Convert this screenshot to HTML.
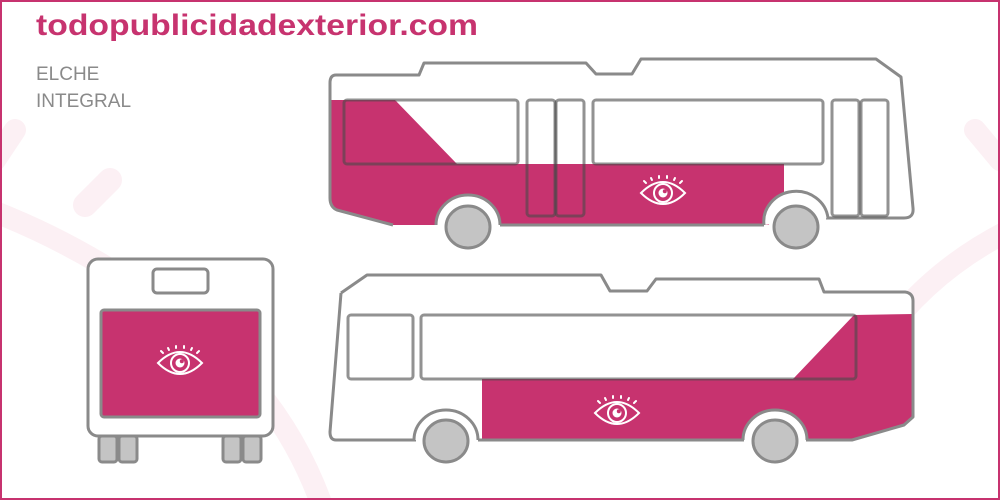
<!DOCTYPE html>
<html><head><meta charset="utf-8"><style>
html,body{margin:0;padding:0;background:#fff}
svg{display:block}
</style></head><body>
<svg width="1000" height="500" viewBox="0 0 1000 500" xmlns="http://www.w3.org/2000/svg">
<defs>
<g id="eye" fill="none" stroke="#fff" stroke-width="2" stroke-linecap="round">
  <path d="M-22,0 Q0,-22 22,0 Q0,22 -22,0 Z"/>
  <circle cx="0" cy="0" r="9"/>
  <circle cx="0" cy="0" r="4.5" fill="#fff" stroke="none"/>
  <circle cx="1.8" cy="-1.8" r="2" fill="#c7336f" stroke="none"/>
  <line x1="-19" y1="-12" x2="-17" y2="-10"/>
  <line x1="-12" y1="-15" x2="-11" y2="-13"/>
  <line x1="-4" y1="-17" x2="-4" y2="-15"/>
  <line x1="4" y1="-17" x2="4" y2="-15"/>
  <line x1="12" y1="-15" x2="11" y2="-13"/>
  <line x1="19" y1="-12" x2="17" y2="-10"/>
</g>
</defs>
<rect x="0" y="0" width="1000" height="500" fill="#fff"/>
<g fill="none" stroke="#fcf0f4" stroke-linecap="round">
  <path d="M-10,210 Q120,260 230,360 Q290,420 320,500" stroke-width="22"/>
  <line x1="85" y1="205" x2="110" y2="180" stroke-width="24"/>
  <line x1="15" y1="130" x2="-5" y2="160" stroke-width="22"/>
  <path d="M1010,230 Q930,270 880,340" stroke-width="22"/>
  <line x1="975" y1="130" x2="1000" y2="160" stroke-width="22"/>
</g>
<rect x="1" y="1" width="998" height="498" fill="none" stroke="#c7336f" stroke-width="2"/>
<text x="36" y="35" font-family="Liberation Sans, sans-serif" font-weight="bold" font-size="30" fill="#c7336f" textLength="442" lengthAdjust="spacingAndGlyphs">todopublicidadexterior.com</text>
<text x="36" y="80" font-family="Liberation Sans, sans-serif" font-size="19" fill="#8a8a8a">ELCHE</text>
<text x="36" y="107" font-family="Liberation Sans, sans-serif" font-size="19" fill="#8a8a8a">INTEGRAL</text>

<!-- TOP BUS -->
<path d="M336,75 L419,75 L424,63 L586,63 L596,74 L632,74 L641,59 L876,59 L901,76 L913,208 Q914,218 904,218 L393,225 L337,210 Q330,207 330,198 L330,83 Q330,75 336,75 Z" fill="#fff"/>
<path d="M330,100 L395,100 L457,164 L784,164 L784,225 L393,225 L337,210 Q330,207 330,198 Z" fill="#c7336f"/>
<path d="M336,75 L419,75 L424,63 L586,63 L596,74 L632,74 L641,59 L876,59 L901,77 L913,208 Q914,218 904,218 L826,218 M393,225 L337,210 Q330,207 330,198 L330,83 Q330,75 336,75 M500,225 L764,225" fill="none" stroke="#8a8a8a" stroke-width="3" stroke-linejoin="round"/>
<g fill="none" stroke="#4a4a4a" stroke-opacity="0.6" stroke-width="3">
  <rect x="344" y="100" width="174" height="64" rx="3"/>
  <rect x="527" y="100" width="28" height="116" rx="3"/>
  <rect x="556" y="100" width="28" height="116" rx="3"/>
  <rect x="593" y="100" width="230" height="64" rx="3"/>
  <rect x="832" y="100" width="27" height="116" rx="3"/>
  <rect x="861" y="100" width="27" height="116" rx="3"/>
</g>
<path d="M436,225 A32,30 0 0 1 500,225" fill="#fff" stroke="#8a8a8a" stroke-width="3"/>
<path d="M764,225 A32,30 0 0 1 828,218" fill="#fff" stroke="#8a8a8a" stroke-width="3"/>
<path d="M441,226 A27,25 0 0 1 495,226 Z" fill="#fff"/>
<path d="M769,226 A27,25 0 0 1 823,226 Z" fill="#fff"/>
<ellipse cx="468" cy="227" rx="22" ry="21" fill="#c4c4c4" stroke="#8a8a8a" stroke-width="3"/>
<ellipse cx="796" cy="227" rx="22" ry="21" fill="#c4c4c4" stroke="#8a8a8a" stroke-width="3"/>
<use href="#eye" x="663" y="193"/>

<!-- BOTTOM BUS -->
<path d="M341,293 L367,275 L601,275 L610,291 L647,291 L656,279 L819,279 L824,292 L905,292 Q913,293 913,301 L913,417 L904,425 L852,440 L336,440 Q330,440 330,432 Z" fill="#fff"/>
<path d="M482,379 L793,379 L854,315 L913,314 L913,417 L904,425 L852,440 L482,440 Z" fill="#c7336f"/>
<path d="M341,293 L367,275 L601,275 L610,291 L647,291 L656,279 L819,279 L824,292 L905,292 Q913,293 913,301 L913,417 L904,425 L852,440 L806,440 M744,440 L478,440 M416,440 L336,440 Q330,440 330,432 L341,293" fill="none" stroke="#8a8a8a" stroke-width="3" stroke-linejoin="round"/>
<g fill="none" stroke="#4a4a4a" stroke-opacity="0.6" stroke-width="3">
  <rect x="348" y="315" width="65" height="64" rx="3"/>
  <rect x="421" y="315" width="435" height="64" rx="3"/>
</g>
<path d="M414,440 A32,30 0 0 1 478,440" fill="#fff" stroke="#8a8a8a" stroke-width="3"/>
<path d="M743,440 A32,30 0 0 1 807,440" fill="#fff" stroke="#8a8a8a" stroke-width="3"/>
<ellipse cx="446" cy="441" rx="22" ry="21" fill="#c4c4c4" stroke="#8a8a8a" stroke-width="3"/>
<ellipse cx="775" cy="441" rx="22" ry="21" fill="#c4c4c4" stroke="#8a8a8a" stroke-width="3"/>
<use href="#eye" x="617" y="413"/>

<!-- REAR -->
<g stroke="#8a8a8a" stroke-width="3">
  <rect x="99" y="436" width="18" height="26" rx="3" fill="#c4c4c4"/>
  <rect x="119" y="436" width="18" height="26" rx="3" fill="#c4c4c4"/>
  <rect x="223" y="436" width="18" height="26" rx="3" fill="#c4c4c4"/>
  <rect x="243" y="436" width="18" height="26" rx="3" fill="#c4c4c4"/>
  <rect x="88" y="259" width="185" height="177" rx="10" fill="#fff"/>
  <rect x="153" y="269" width="55" height="24" rx="4" fill="#fff"/>
  <rect x="101" y="310" width="159" height="107" rx="3" fill="#c7336f"/>
</g>
<use href="#eye" x="180" y="363"/>
</svg>
</body></html>
